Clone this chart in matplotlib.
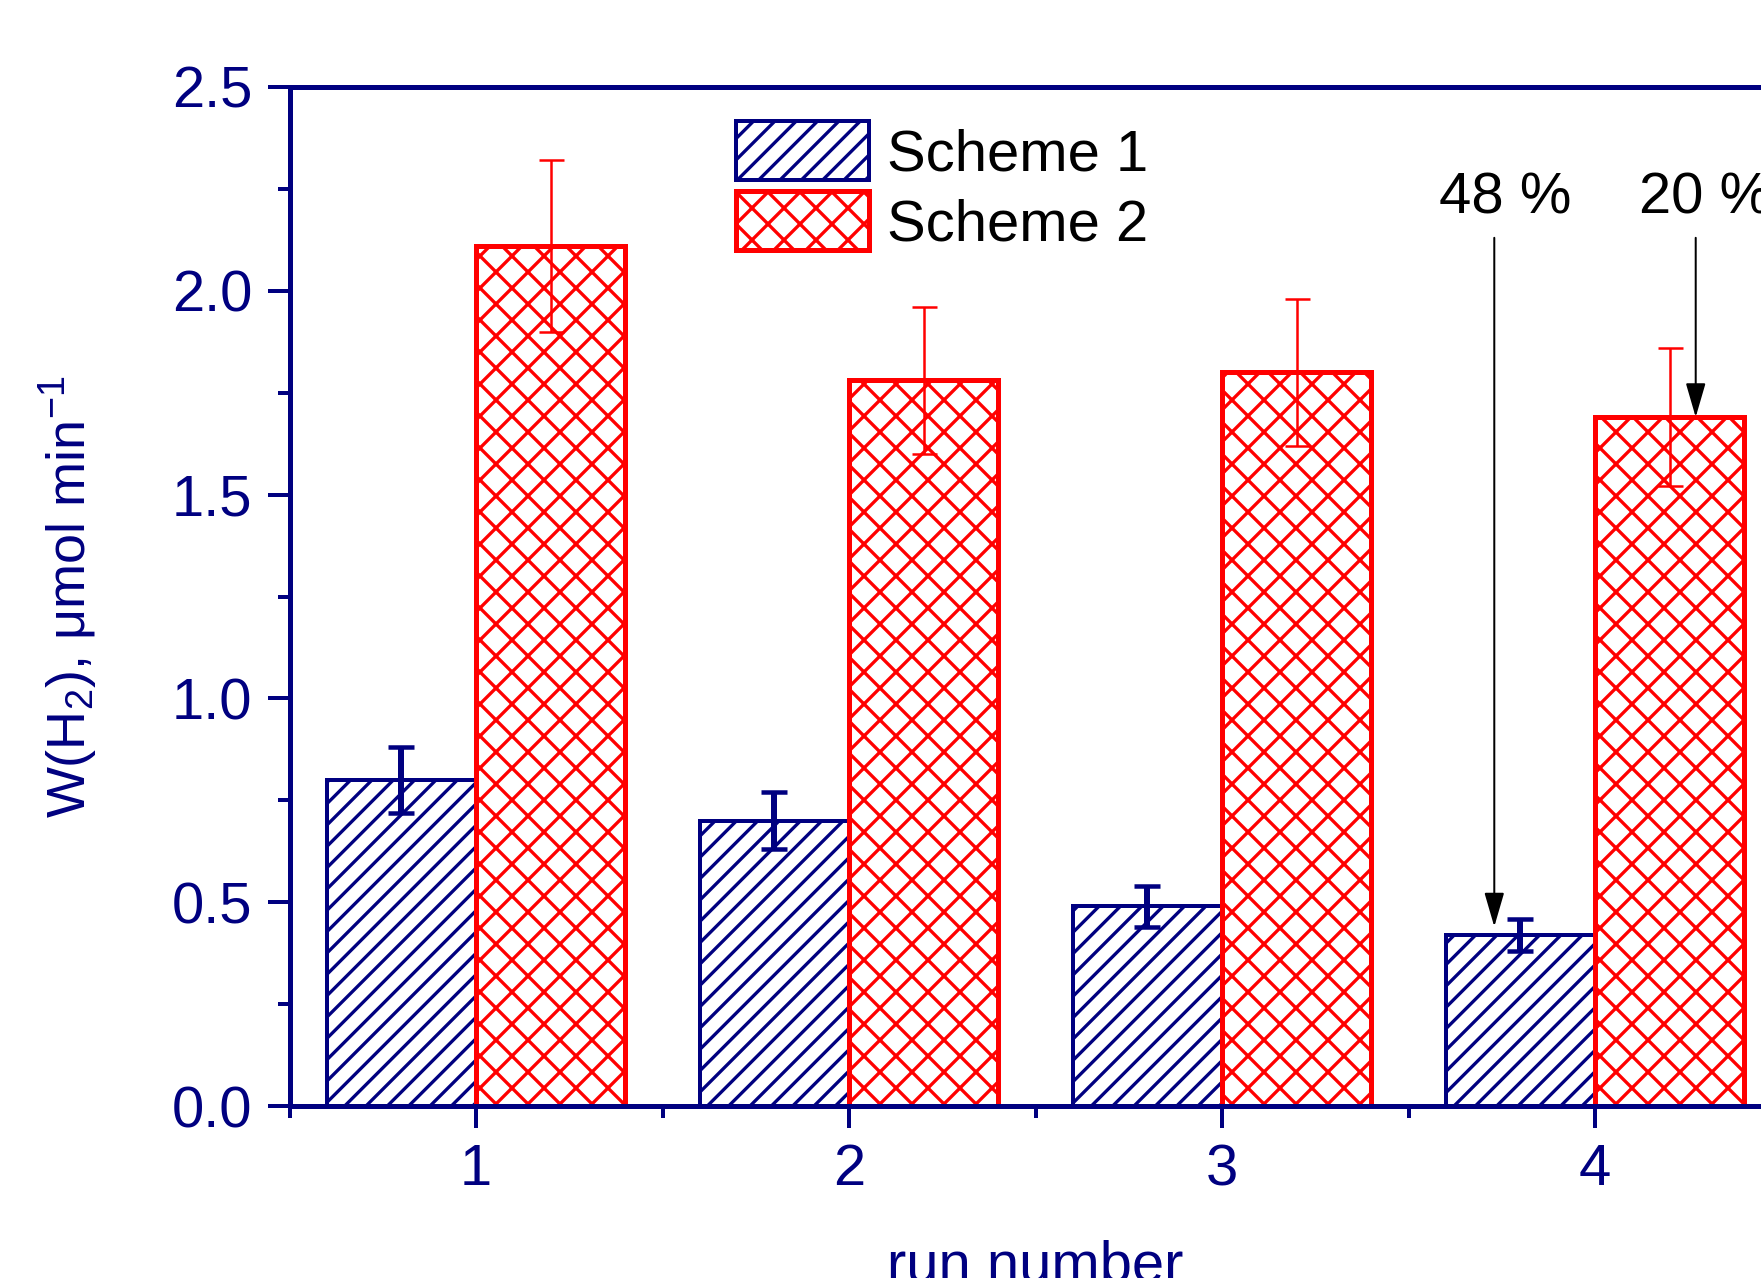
import numpy as np
import matplotlib
matplotlib.use('Agg')
import matplotlib.pyplot as plt
from matplotlib.ticker import MultipleLocator

# high dpi so the hatch spacing matches the original
DPI = 384
def pt(px):
    # pixel size in the output -> points
    return px * 72.0 / DPI

plt.rcParams['font.family'] = ['Liberation Sans', 'DejaVu Sans']
plt.rcParams['mathtext.fontset'] = 'custom'
plt.rcParams['mathtext.rm'] = 'Liberation Sans'
plt.rcParams['mathtext.it'] = 'Liberation Sans:italic'
plt.rcParams['hatch.linewidth'] = pt(3.3)

runs = np.array([1, 2, 3, 4])
scheme1 = [0.80, 0.70, 0.49, 0.42]
scheme1_err = [0.08, 0.07, 0.05, 0.04]
scheme2 = [2.11, 1.78, 1.80, 1.69]
scheme2_err = [0.21, 0.18, 0.18, 0.17]
series_names = ['Scheme 1', 'Scheme 2']

notes = ['48 %', '20 %']
note_x = [3.73, 4.27]
note_tip = [0.44, 1.69]
note_left = [3.582, 4.118]

navy = '#000080'
red = '#ff0000'
fs = pt(58)

fig = plt.figure(figsize=(1761 / DPI, 1278 / DPI), dpi=DPI)
ax = fig.add_axes([289.5 / 1761, 172 / 1278, 1492 / 1761, 1019 / 1278])

w = 0.4
b1 = ax.bar(runs - w / 2, scheme1, w, facecolor='white', edgecolor=navy,
            linewidth=pt(4), hatch='//////', label=series_names[0], zorder=2)
b2 = ax.bar(runs + w / 2, scheme2, w, facecolor='white', edgecolor=red,
            linewidth=pt(5), hatch='xxxx', label=series_names[1], zorder=2)

ax.errorbar(runs - w / 2, scheme1, yerr=scheme1_err, fmt='none', ecolor=navy,
            elinewidth=pt(6), capsize=pt(13), capthick=pt(4.5), zorder=3)
ax.errorbar(runs + w / 2, scheme2, yerr=scheme2_err, fmt='none', ecolor=red,
            elinewidth=pt(2.5), capsize=pt(12.5), capthick=pt(2.5), zorder=3)

for lab, x, tip, xl in zip(notes, note_x, note_tip, note_left):
    ax.annotate('', xy=(x, tip), xytext=(x, 2.13),
                arrowprops=dict(arrowstyle='-|>,head_length=0.55,head_width=0.16',
                                mutation_scale=10, color='black', lw=pt(2),
                                shrinkA=0, shrinkB=0), zorder=4)
    ax.text(xl, 2.19, lab, ha='left', va='baseline', fontsize=fs,
            color='black')

ax.set_xlim(0.5, 4.5)
ax.set_ylim(0, 2.5)
ax.xaxis.set_major_locator(MultipleLocator(1))
ax.xaxis.set_minor_locator(MultipleLocator(0.5))
ax.yaxis.set_major_locator(MultipleLocator(0.5))
ax.yaxis.set_minor_locator(MultipleLocator(0.25))
ax.yaxis.set_major_formatter(matplotlib.ticker.FormatStrFormatter('%.1f'))

for s in ax.spines.values():
    s.set_color(navy)
    s.set_linewidth(pt(5))

ax.tick_params(which='major', direction='out', length=pt(22), width=pt(4),
               color=navy, labelcolor=navy, labelsize=fs, pad=pt(15))
ax.tick_params(which='minor', direction='out', length=pt(12), width=pt(4),
               color=navy)

ax.set_xlabel('run number', fontsize=fs, color=navy, labelpad=pt(42))
ax.set_ylabel('W(H$_2$), μmol min$^{-1}$', fontsize=pt(54), color=navy,
              labelpad=pt(72))

ax.legend(handles=[b1, b2], loc='upper left', frameon=False,
          bbox_to_anchor=(736 / 1761, 1 - 121 / 1278),
          bbox_transform=fig.transFigure, borderpad=0, borderaxespad=0,
          handlelength=2.3, handleheight=1.2, handletextpad=0.3,
          labelspacing=0.15, fontsize=fs)

fig.savefig('out.png', dpi=DPI)
